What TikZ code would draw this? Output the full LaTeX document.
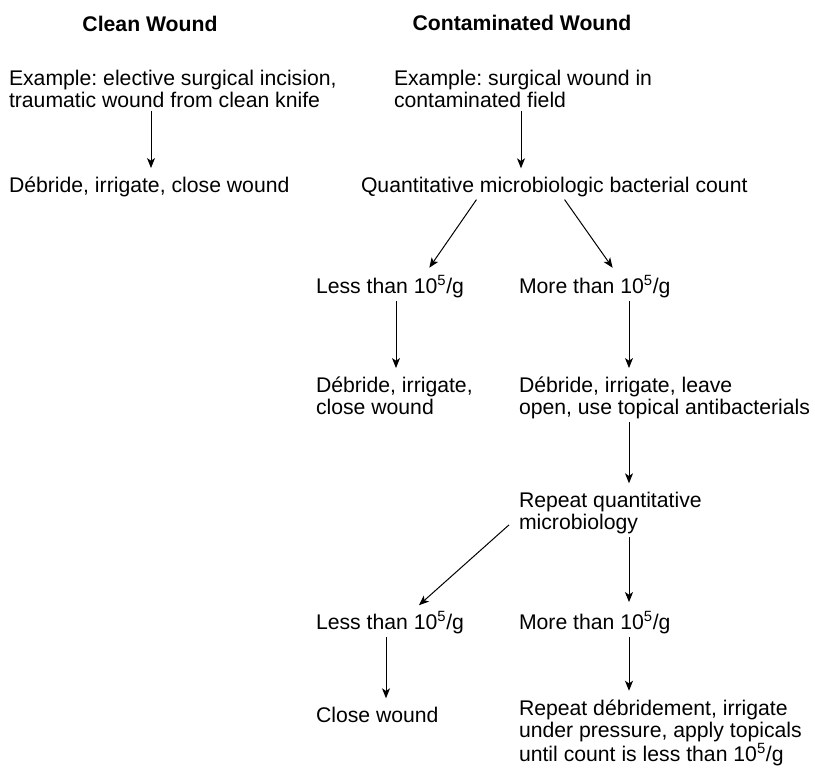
\documentclass[tikz,border=0pt]{standalone}
\usepackage{fontspec}
\setmainfont{Liberation Sans}
\usetikzlibrary{arrows.meta}
\frenchspacing

\tikzset{
  txt/.style={inner sep=0pt, outer sep=0pt, anchor=base west, align=left, font=\fontsize{15.9pt}{16.5pt}\selectfont},
  hd/.style={inner sep=0pt, outer sep=0pt, anchor=base, font=\fontsize{15.9pt}{16.5pt}\selectfont\bfseries},
  arr/.style={-{Stealth[length=7.5pt,width=6pt,inset=2pt]}, line width=0.75pt, shorten <=2pt, shorten >=7pt}
}

\begin{document}
\begin{tikzpicture}[x=0.75pt,y=0.75pt,yscale=-1,xscale=1]
\useasboundingbox (0,0) rectangle (815,773);

% Headers
\node[hd] (cleanhd) at (150,32) {Clean Wound};
\node[hd] (conthd) at (522,31) {Contaminated Wound};

% Text Nodes (base = last line)
\node[txt] (cleanex) at (9,108) {Example: elective surgical incision,\\traumatic wound from clean knife};
\node[txt] (cleanact) at (9,193) {D\'ebride, irrigate, close wound};
\node[txt] (contex) at (394,108) {Example: surgical wound in\\contaminated field};
\node[txt] (quant) at (361,193) {Quantitative microbiologic bacterial count};
\node[txt] (lessa) at (316,294) {Less than 10\textsuperscript{5}/g};
\node[txt] (morea) at (519,294) {More than 10\textsuperscript{5}/g};
\node[txt] (debla) at (316,415) {D\'ebride, irrigate,\\close wound};
\node[txt] (deblb) at (519,415) {D\'ebride, irrigate, leave\\open, use topical antibacterials};
\node[txt] (rep) at (519,530) {Repeat quantitative\\microbiology};
\node[txt] (lessb) at (316,630) {Less than 10\textsuperscript{5}/g};
\node[txt] (moreb) at (519,630) {More than 10\textsuperscript{5}/g};
\node[txt] (closew) at (316,723) {Close wound};
\node[txt] (final) at (519,762) {Repeat d\'ebridement, irrigate\\under pressure, apply topicals\\until count is less than 10\textsuperscript{5}/g};

% Arrow columns
\coordinate (cA) at (151,0);
\coordinate (cB) at (521,0);
\coordinate (cC) at (396,0);
\coordinate (cD) at (629,0);
\coordinate (cE) at (386,0);
\coordinate (dLs) at (478,0);
\coordinate (dLe) at (424,0);
\coordinate (dRs) at (563,0);
\coordinate (dRe) at (618,0);
\coordinate (dBe) at (412,0);

% Straight Lines
\draw[arr] (cleanex.south -| cA) -- (cleanact.north -| cA);
\draw[arr] (contex.south -| cB) -- (quant.north -| cB);
\draw[arr] (quant.south -| dLs) -- (lessa.north -| dLe);
\draw[arr] (quant.south -| dRs) -- (morea.north -| dRe);
\draw[arr] (lessa.south -| cC) -- (debla.north -| cC);
\draw[arr] (morea.south -| cD) -- (deblb.north -| cD);
\draw[arr] (deblb.south -| cD) -- (rep.north -| cD);
\draw[arr, shorten <=0pt] ([shift={(-10,-9.5)}]rep.south west) -- (lessb.north -| dBe);
\draw[arr] (rep.south -| cD) -- (moreb.north -| cD);
\draw[arr] (lessb.south -| cE) -- (closew.north -| cE);
\draw[arr] (moreb.south -| cD) -- (final.north -| cD);

\end{tikzpicture}
\end{document}
